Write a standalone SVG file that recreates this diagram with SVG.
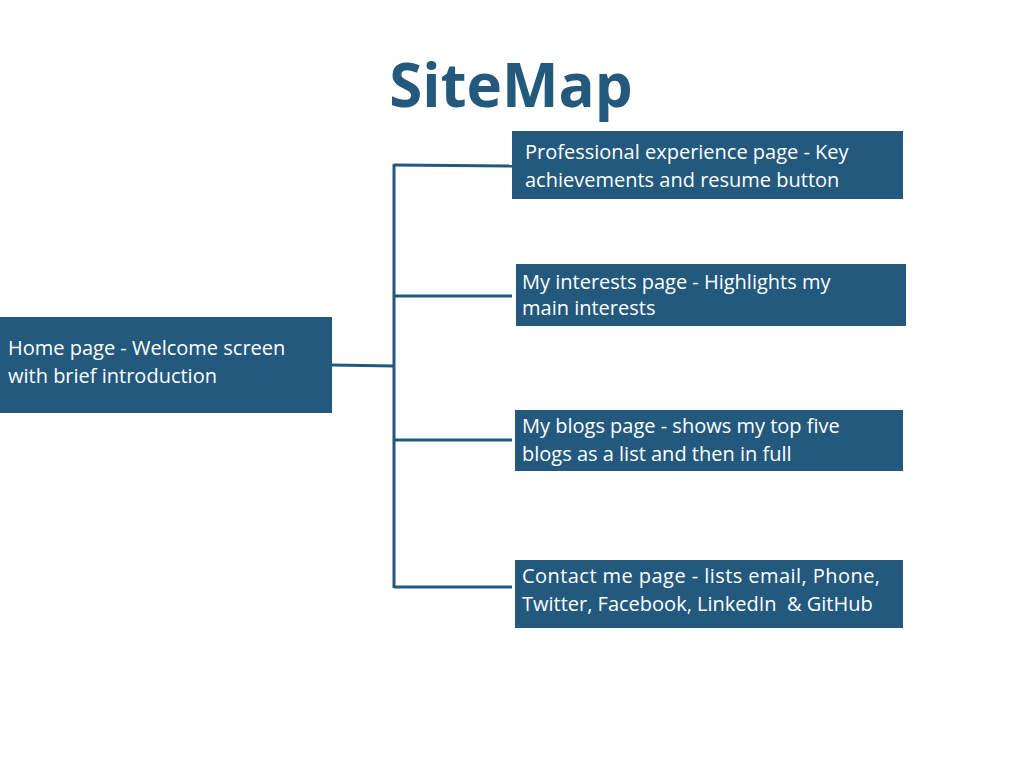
<svg xmlns="http://www.w3.org/2000/svg" width="1024" height="768" viewBox="0 0 1024 768">
<style>
.box{fill:#23597d}
.t{font-family:"Open Sans","Noto Sans",sans-serif;font-size:20px;fill:#ffffff}
.c{stroke:#23597d;stroke-width:3;fill:none}
.title{font-family:"Open Sans","Noto Sans",sans-serif;font-size:60px;font-weight:bold;fill:#23597d}
</style>
<rect width="1024" height="768" fill="#ffffff"/>
<text class="title" x="511" y="107" text-anchor="middle">SiteMap</text>
<g id="connectors">
<path class="c" d="M332 365 L394 366"/>
<path class="c" d="M394 164 L394 588"/>
<path class="c" d="M394 165 L512 166"/>
<path class="c" d="M394 296 L512 296"/>
<path class="c" d="M394 440 L512 440"/>
<path class="c" d="M394 587 L512 587"/>
</g>
<g id="home">
<rect class="box" x="0" y="317" width="332" height="96"/>
<text class="t" x="8" y="355">Home page - Welcome screen</text>
<text class="t" x="8" y="383">with brief introduction</text>
</g>
<g id="professional">
<rect class="box" x="512" y="131" width="391" height="68"/>
<text class="t" x="525" y="159">Professional experience page - Key</text>
<text class="t" x="525" y="187">achievements and resume button</text>
</g>
<g id="interests">
<rect class="box" x="516" y="264" width="390" height="62"/>
<text class="t" x="522" y="289">My interests page - Highlights my</text>
<text class="t" x="522" y="315">main interests</text>
</g>
<g id="blogs">
<rect class="box" x="515" y="410" width="388" height="61"/>
<text class="t" x="522" y="433">My blogs page - shows my top five</text>
<text class="t" x="522" y="461">blogs as a list and then in full</text>
</g>
<g id="contact">
<rect class="box" x="515" y="560" width="388" height="68"/>
<text class="t" x="522" y="583" textLength="358" lengthAdjust="spacing">Contact me page - lists email, Phone,</text>
<text class="t" x="522" y="611" style="white-space:pre">Twitter, Facebook, LinkedIn  &amp; GitHub</text>
</g>
</svg>
